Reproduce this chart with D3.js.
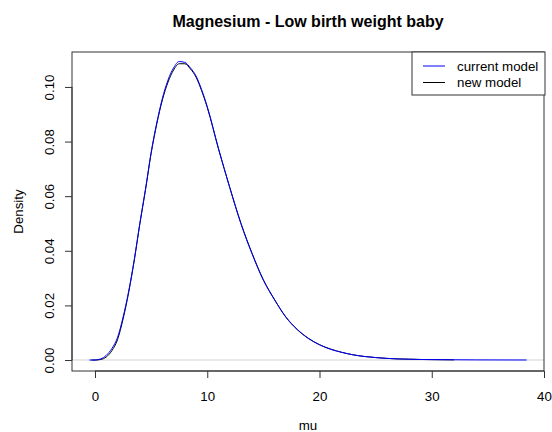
<!DOCTYPE html>
<html>
<head>
<meta charset="utf-8">
<script src="https://cdn.jsdelivr.net/npm/d3@7"></script>
<style>
  body { margin: 0; background: #fff; }
  text { font-family: "Liberation Sans", Arial, sans-serif; fill: #000; }
</style>
</head>
<body>
<div id="chart"></div>
<script>
// data
var muCurrent = [-0.5, 0, 0.5, 1, 1.5, 2, 2.5, 3, 3.5, 4, 4.5, 5, 5.5, 6, 6.5, 7, 7.5, 8, 8.5, 9, 9.5, 10,
  11, 12, 13, 14, 15, 16, 17, 18, 19, 20, 21, 22, 23, 24, 25, 26, 27, 28, 29, 30, 32, 34, 36, 38.45];
var densCurrent = [0, 0, 0.0004, 0.0017, 0.0042, 0.0082, 0.0157, 0.0252, 0.0368, 0.0502, 0.0626, 0.0760, 0.0868, 0.0958,
  0.1025, 0.1070, 0.1093, 0.1090, 0.1070, 0.1040, 0.0990, 0.0928,
  0.0775, 0.0632, 0.0499, 0.0388, 0.0292, 0.0220, 0.0158, 0.0113, 0.0080, 0.0056, 0.0039, 0.0028, 0.0019,
  0.0013, 0.0009, 0.0006, 0.0004, 0.0003, 0.0002, 0.00015, 0.0001, 0.00005, 0.00003, 0.00001];

var muNew = [-0.3, 0, 0.5, 1, 1.5, 2, 2.5, 3, 3.5, 4, 4.5, 5, 5.5, 6, 6.5, 7, 7.5, 8, 8.5, 9, 9.5, 10,
  11, 12, 13, 14, 15, 16, 17, 18, 19, 20, 21, 22, 23, 24, 25, 26, 27, 28, 29, 30, 31, 32];
var densNew = [0, 0, 0.0002, 0.0011, 0.0034, 0.0074, 0.0150, 0.0248, 0.0366, 0.0500, 0.0624, 0.0757, 0.0864, 0.0952,
  0.1017, 0.1062, 0.1085, 0.1085, 0.1066, 0.1036, 0.0986, 0.0925,
  0.0773, 0.0633, 0.0501, 0.0390, 0.0294, 0.0221, 0.0157, 0.0112, 0.0079, 0.0056, 0.0040, 0.0028, 0.0019,
  0.0013, 0.0009, 0.0006, 0.0004, 0.0003, 0.0002, 0.00015, 0.0001, 0.00005];

var xTicks = [0, 10, 20, 30, 40];
var yTicks = [0, 0.02, 0.04, 0.06, 0.08, 0.10];
var legendNames = ["current model", "new model"];
var legendColors = ["blue", "black"];

var svgWidth = 552;
var svgHeight = 432;

// plot region
var margin = { top: 52, right: 8, bottom: 61, left: 72 };
var width = svgWidth - margin.left - margin.right;
var height = svgHeight - margin.top - margin.bottom;

var svg = d3.select("#chart")
  .append("svg")
  .attr("width", svgWidth)
  .attr("height", svgHeight);

var chartGroup = svg.append("g")
  .attr("transform", `translate(${margin.left}, ${margin.top})`);

var xScale = d3.scaleLinear().domain([-2.05, 40]).range([0, width]);
var yScale = d3.scaleLinear().domain([-0.00402, 0.1128]).range([height, 0]);

// gray line at zero
chartGroup.append("line")
  .attr("x1", 0).attr("x2", width)
  .attr("y1", yScale(0)).attr("y2", yScale(0))
  .attr("stroke", "#d3d3d3")
  .attr("stroke-width", 1.2);

var line = d3.line()
  .x(d => xScale(d[0]))
  .y(d => yScale(d[1]))
  .curve(d3.curveMonotoneX);

chartGroup.append("path")
  .datum(d3.zip(muNew, densNew))
  .attr("d", line)
  .attr("fill", "none")
  .attr("stroke", "black")
  .attr("stroke-width", 1);

chartGroup.append("path")
  .datum(d3.zip(muCurrent, densCurrent))
  .attr("d", line)
  .attr("fill", "none")
  .attr("stroke", "blue")
  .attr("stroke-width", 1);

// box
chartGroup.append("rect")
  .attr("x", 0).attr("y", 0)
  .attr("width", width).attr("height", height)
  .attr("fill", "none")
  .attr("stroke", "#333");

// x axis
var xAxis = chartGroup.append("g")
  .attr("transform", `translate(0, ${height})`)
  .call(d3.axisBottom(xScale).tickValues(xTicks).tickSize(7).tickPadding(14).tickFormat(d3.format("d")));
xAxis.select(".domain").attr("d", `M${xScale(0)},0H${xScale(40)}`).attr("stroke", "#333");
xAxis.selectAll(".tick line").attr("stroke", "#333");
xAxis.selectAll("text").attr("font-size", "13.3px").attr("fill", "#000");

// y axis
var yAxis = chartGroup.append("g")
  .call(d3.axisLeft(yScale).tickValues(yTicks).tickSize(7).tickFormat(d3.format(".2f")));
yAxis.select(".domain").attr("d", `M0,${yScale(0)}V${yScale(0.10)}`).attr("stroke", "#333");
yAxis.selectAll(".tick line").attr("stroke", "#333");
yAxis.selectAll("text")
  .attr("font-size", "13.3px")
  .attr("fill", "#000")
  .attr("x", null).attr("dy", null)
  .attr("text-anchor", "middle")
  .attr("transform", "translate(-18, 0) rotate(-90)");

// titles
svg.append("text")
  .attr("x", margin.left + width / 2)
  .attr("y", 27)
  .attr("text-anchor", "middle")
  .attr("font-size", "16px")
  .attr("font-weight", "bold")
  .text("Magnesium - Low birth weight baby");

svg.append("text")
  .attr("x", margin.left + width / 2)
  .attr("y", 430)
  .attr("text-anchor", "middle")
  .attr("font-size", "13.3px")
  .text("mu");

svg.append("text")
  .attr("transform", `translate(23, ${margin.top + height / 2}) rotate(-90)`)
  .attr("text-anchor", "middle")
  .attr("font-size", "13.3px")
  .text("Density");

// legend
var legend = svg.append("g").attr("transform", "translate(412, 52)");
legend.append("rect")
  .attr("width", 133).attr("height", 43)
  .attr("fill", "white").attr("stroke", "#333");
legendNames.forEach(function(name, i) {
  legend.append("line")
    .attr("x1", 11).attr("x2", 33)
    .attr("y1", 14 + i * 16.5).attr("y2", 14 + i * 16.5)
    .attr("stroke", legendColors[i]);
  legend.append("text")
    .attr("x", 45).attr("y", 18.5 + i * 16.5)
    .attr("font-size", "13.3px")
    .text(name);
});
</script>
</body>
</html>
